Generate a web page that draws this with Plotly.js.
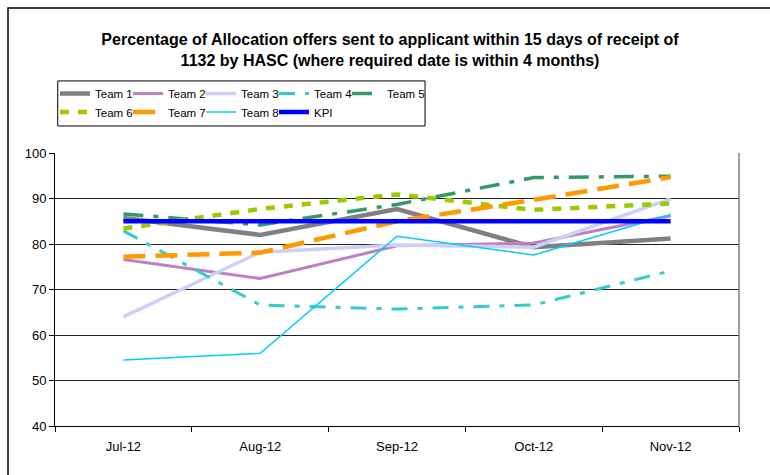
<!DOCTYPE html>
<html>
<head>
<meta charset="utf-8">
<script src="https://cdn.plot.ly/plotly-3.0.1.min.js"></script>
<style>
  body { margin: 0; background: #fff; }
  #chart { width: 770px; height: 475px; }
  /* entries are packed tighter than their text, so let the last label show */
  #chart .legend .scrollbox { clip-path: none !important; }
</style>
</head>
<body>
<div id="chart"></div>
<script>
var months = ['Jul-12', 'Aug-12', 'Sep-12', 'Oct-12', 'Nov-12'];

var team1 = [85.7, 82.0, 87.7, 79.3, 81.2];
var team2 = [76.6, 72.4, 79.6, 80.2, 86.2];
var team3 = [64.0, 78.2, 79.8, 79.3, 89.9];
var team4 = [82.9, 66.6, 65.7, 66.6, 74.1];
var team5 = [86.6, 84.2, 88.7, 94.6, 94.9];
var team6 = [83.4, 87.7, 90.9, 87.5, 88.9];
var team7 = [77.2, 78.1, 85.0, 89.7, 94.7];
var team8 = [54.5, 56.0, 81.7, 77.6, 86.5];
var kpi   = [85, 85, 85, 85, 85];

var FONT = 'Liberation Sans, Arial, sans-serif';

function line(name, y, color, width, dash, legend) {
  return {
    x: months, y: y, name: name, type: 'scatter', mode: 'lines',
    line: { color: color, width: width, dash: dash || 'solid' },
    legend: legend
  };
}

var data = [
  line('Team 1', team1, '#808080', 4.5, 'solid', 'legend'),
  line('Team 2', team2, '#c080c0', 3, 'solid', 'legend'),
  line('Team 3', team3, '#ccd0f6', 3.5, 'solid', 'legend'),
  line('Team 4', team4, '#33cccc', 3, '16px,10px,5px,10px', 'legend'),
  line('Team 5', team5, '#339966', 3.5, '20px,10px,5px,10px', 'legend'),
  line('Team 6', team6, '#99cc00', 4.5, '9px,9px', 'legend2'),
  line('Team 7', team7, '#ff9900', 4.5, '22px,10px', 'legend2'),
  line('Team 8', team8, '#00ccff', 1.5, 'solid', 'legend2'),
  line('KPI', kpi, '#0000ff', 4.5, 'solid', 'legend2')
];

var legendStyle = {
  orientation: 'h', xanchor: 'left', yanchor: 'top',
  font: { family: FONT, size: 11.5, color: '#000' },
  bgcolor: 'rgba(0,0,0,0)', borderwidth: 0,
  entrywidth: 28, entrywidthmode: 'pixels',
  itemwidth: 30, tracegroupgap: 0, traceorder: 'normal'
};

var layout = {
  width: 770, height: 475,
  margin: { l: 55, r: 31, t: 153, b: 49 },
  paper_bgcolor: '#fff', plot_bgcolor: '#fff',
  font: { family: FONT, size: 13, color: '#000' },
  title: {
    text: '<b>Percentage of Allocation offers sent to applicant within 15 days of receipt of<br>1132 by HASC (where required date is within 4 months)</b>',
    font: { family: FONT, size: 16, color: '#000' },
    x: 390 / 770, xanchor: 'center', xref: 'container',
    y: 1 - 45 / 475, yanchor: 'top', yref: 'container'
  },
  showlegend: true,
  legend: Object.assign({ x: 0.0, y: 1.271 }, legendStyle),
  legend2: Object.assign({ x: 0.0, y: 1.203 }, legendStyle),
  xaxis: {
    type: 'category', range: [-0.5, 4.5], tickson: 'boundaries',
    ticks: 'outside', ticklen: 5, tickcolor: '#000',
    showline: true, linecolor: '#000', linewidth: 1,
    showgrid: false, zeroline: false, ticklabelstandoff: 8,
    tickfont: { family: FONT, size: 13 }, fixedrange: true
  },
  yaxis: {
    range: [40, 100], dtick: 10,
    ticks: 'outside', ticklen: 5, tickcolor: '#000',
    showline: true, linecolor: '#000', linewidth: 1,
    showgrid: true, gridcolor: '#222', gridwidth: 1,
    zeroline: false, tickfont: { family: FONT, size: 13 }, fixedrange: true
  },
  shapes: [
    { type: 'rect', xref: 'paper', yref: 'paper', x0: -0.0687, x1: 1.2, y0: -0.5, y1: 1.531,
      line: { color: '#000', width: 1.5 }, fillcolor: 'rgba(0,0,0,0)' },
    { type: 'rect', xref: 'paper', yref: 'paper', x0: 0.004, x1: 0.541, y0: 1.099, y1: 1.264,
      line: { color: '#000', width: 1 }, fillcolor: 'rgba(0,0,0,0)' },
    { type: 'line', xref: 'paper', yref: 'paper', x0: 1, x1: 1, y0: 0, y1: 1,
      line: { color: '#808080', width: 1.5 } }
  ]
};

Plotly.newPlot('chart', data, layout, { displayModeBar: false, staticPlot: true });
</script>
</body>
</html>
